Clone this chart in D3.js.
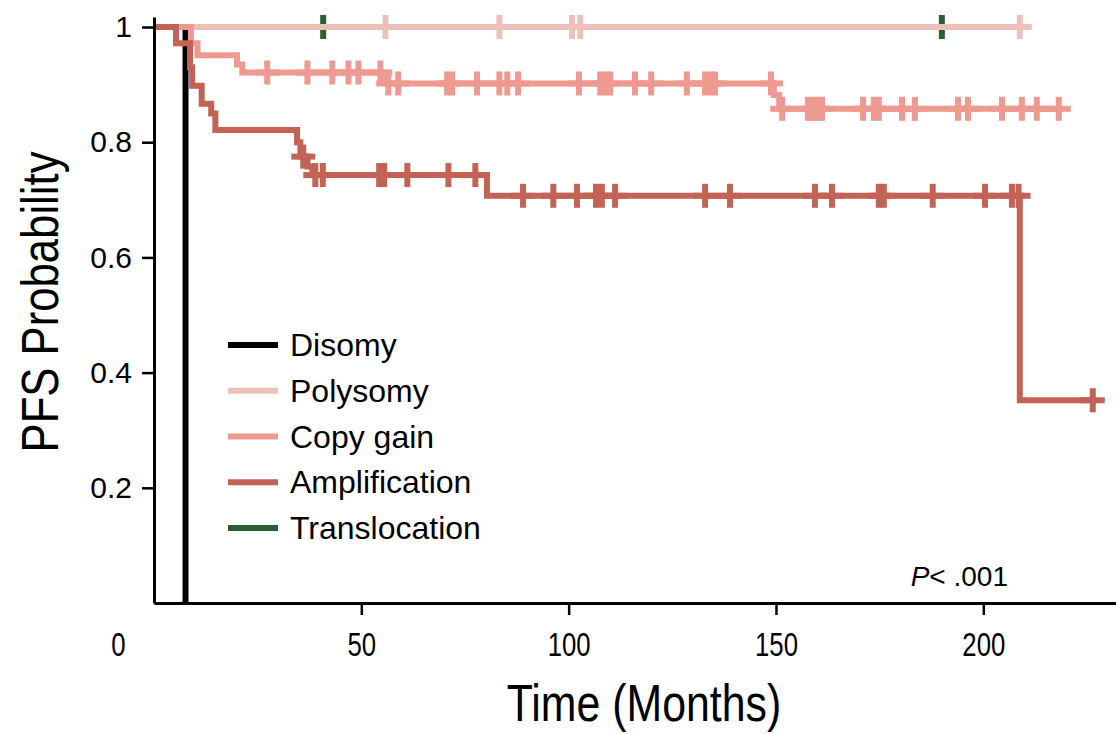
<!DOCTYPE html>
<html>
<head>
<meta charset="utf-8">
<script src="https://cdn.jsdelivr.net/npm/d3@7"></script>
<style>
  body { margin: 0; background: #fff; }
  svg { display: block; }
  .axis path, .axis line { stroke: #000; }
  .axis text { fill: #000; }
</style>
</head>
<body>
<svg class="chart" width="1116" height="734"></svg>
<script>
// group names and colours
var groups = ["Disomy", "Polysomy", "Copy gain", "Amplification", "Translocation"];
var groupColors = ["#000000", "#ecc1ba", "#ef9a90", "#c26356", "#2b5e35"];

// Kaplan-Meier steps (months, PFS probability) and censor times
var disomyTimes = [0, 7.6];
var disomySurv = [1, 0];
var disomyCensor = [];

var polysomyTimes = [0];
var polysomySurv = [1];
var polysomyCensor = [55.8, 83.3, 100.8, 102.8, 208.8];

var copyGainTimes = [0, 8.9, 10.5, 20.0, 21.3, 55.5, 56.3, 149.5, 150.8];
var copyGainSurv = [1, 0.972, 0.951, 0.935, 0.921, 0.91, 0.902, 0.882, 0.858];
var copyGainCensor = [27.3, 37.0, 43.0, 46.9, 49.3, 54.6, 56.5, 58.9, 70.7, 71.9, 77.9, 83.3,
  85.2, 87.8, 102.5, 107.6, 108.8, 110.0, 116.0, 119.9, 128.5, 132.9, 134.1, 135.3, 148.8,
  151.5, 157.7, 158.9, 160.1, 161.1, 171.0, 173.6, 174.8, 180.4, 183.5, 193.9, 196.3,
  204.5, 209.3, 212.9, 218.2];

var amplificationTimes = [0, 5.3, 8.7, 9.2, 11.5, 13.8, 14.8, 34.5, 35.3, 37.0, 38.2, 80.3, 208.8];
var amplificationSurv = [1, 0.972, 0.93, 0.898, 0.867, 0.85, 0.821, 0.80, 0.775, 0.758, 0.743, 0.707, 0.352];
var amplificationCensor = [36.0, 38.9, 40.7, 54.3, 55.5, 61.1, 71.0, 77.5, 89.0, 96.3, 102.0,
  106.6, 108.0, 111.2, 132.9, 138.9, 159.4, 163.5, 174.8, 176.0, 187.8, 200.4, 206.9, 208.5, 226.4];

var translocationTimes = [0];
var translocationSurv = [1];
var translocationCensor = [40.8, 190.0];

var xTicks = [0, 50, 100, 150, 200];
var yTicks = [0.2, 0.4, 0.6, 0.8, 1];

var curves = [
  {name: "Translocation", times: translocationTimes, surv: translocationSurv, censor: translocationCensor, w: 4},
  {name: "Disomy", times: disomyTimes, surv: disomySurv, censor: disomyCensor, w: 6},
  {name: "Polysomy", times: polysomyTimes, surv: polysomySurv, censor: polysomyCensor, w: 6},
  {name: "Copy gain", times: copyGainTimes, surv: copyGainSurv, censor: copyGainCensor, w: 6},
  {name: "Amplification", times: amplificationTimes, surv: amplificationSurv, censor: amplificationCensor, w: 6}
];

var chart = d3.select(".chart"),
    plotLeft = 154, plotBottom = 603, plotTop = 17, plotRight = 1116;

var xScale = d3.scaleLinear().domain([0, 232]).range([plotLeft, plotRight]);
var yScale = d3.scaleLinear().domain([0, 1.0174]).range([plotBottom, plotTop]);
var color = d3.scaleOrdinal().domain(groups).range(groupColors);

// no condensed face is installed, so squeeze the regular one
var narrow = 0.84;

// value of the step curve at time t
function survAt(c, t) {
  var s = c.surv[0];
  for (var i = 0; i < c.times.length; i++) {
    if (c.times[i] <= t) s = c.surv[i];
  }
  return s;
}

var line = d3.line()
  .curve(d3.curveStepAfter)
  .x(function(d) { return xScale(d[0]); })
  .y(function(d) { return yScale(d[1]); });

var g = chart.append("g");

curves.forEach(function(c) {
  var pts = c.times.map(function(t, i) { return [t, c.surv[i]]; });
  var tEnd = Math.max(c.times[c.times.length - 1], d3.max(c.censor) || 0);
  pts.push([tEnd, c.surv[c.surv.length - 1]]);

  g.append("path")
    .datum(pts)
    .attr("fill", "none")
    .attr("stroke", color(c.name))
    .attr("stroke-width", c.w)
    .attr("d", line);

  var marks = g.selectAll(null)
    .data(c.censor)
    .enter().append("g")
    .attr("transform", function(t) { return "translate(" + xScale(t) + "," + yScale(survAt(c, t)) + ")"; });
  marks.append("path")
    .attr("d", "M-12,0H12")
    .attr("stroke", color(c.name))
    .attr("stroke-width", c.w);
  marks.append("path")
    .attr("d", "M0,-12V12")
    .attr("stroke", color(c.name))
    .attr("stroke-width", 6);
});

// axes
var xAxis = chart.append("g")
  .attr("class", "axis x")
  .attr("transform", "translate(0," + plotBottom + ")")
  .call(d3.axisBottom(xScale).tickValues(xTicks).tickSize(12).tickSizeOuter(0).tickPadding(18));
xAxis.select(".domain").attr("stroke-width", 3);
xAxis.selectAll(".tick line").attr("stroke-width", 2.5);
xAxis.selectAll(".tick text")
  .attr("transform", "scale(0.78,1)")
  .style("font-family", "'Liberation Sans', Arial, sans-serif")
  .style("font-size", "33px");
xAxis.selectAll(".tick").filter(function(d) { return d === 0; })
  .each(function() {
    d3.select(this).select("line").remove();
    d3.select(this).select("text").attr("x", -36 / 0.78);
  });

var yAxis = chart.append("g")
  .attr("class", "axis y")
  .attr("transform", "translate(" + plotLeft + ",0)")
  .call(d3.axisLeft(yScale).tickValues(yTicks).tickSize(12).tickSizeOuter(0).tickPadding(10)
    .tickFormat(d3.format("")));
yAxis.select(".domain").attr("stroke-width", 3);
yAxis.selectAll(".tick line").attr("stroke-width", 2.5);
yAxis.selectAll(".tick text")
  .style("font-family", "'Liberation Sans', Arial, sans-serif")
  .style("font-size", "30px");

chart.append("text")
  .attr("transform", "translate(644,721) scale(" + narrow + ",1)")
  .attr("text-anchor", "middle")
  .style("font-family", "'Liberation Sans', Arial, sans-serif")
  .style("font-size", "51px")
  .text("Time (Months)");

chart.append("text")
  .attr("transform", "translate(58,302) rotate(-90) scale(" + narrow + ",1)")
  .attr("text-anchor", "middle")
  .style("font-family", "'Liberation Sans', Arial, sans-serif")
  .style("font-size", "52px")
  .text("PFS Probability");

// legend
var legend = chart.append("g").attr("transform", "translate(228,345)");
var item = legend.selectAll("g")
  .data(groups)
  .enter().append("g")
  .attr("transform", function(d, i) { return "translate(0," + i * 45.75 + ")"; });
item.append("line")
  .attr("x1", 0).attr("x2", 50)
  .attr("stroke", function(d) { return color(d); })
  .attr("stroke-width", 6);
item.append("text")
  .attr("x", 62)
  .attr("y", 11)
  .style("font-family", "'Liberation Sans', Arial, sans-serif")
  .style("font-size", "32px")
  .text(function(d) { return d; });

var ptext = chart.append("text")
  .attr("x", 1008)
  .attr("y", 586)
  .attr("text-anchor", "end")
  .style("font-family", "'Liberation Sans', Arial, sans-serif")
  .style("font-size", "28px");
ptext.append("tspan").style("font-style", "italic").text("P");
ptext.append("tspan").text("< .001");
</script>
</body>
</html>
